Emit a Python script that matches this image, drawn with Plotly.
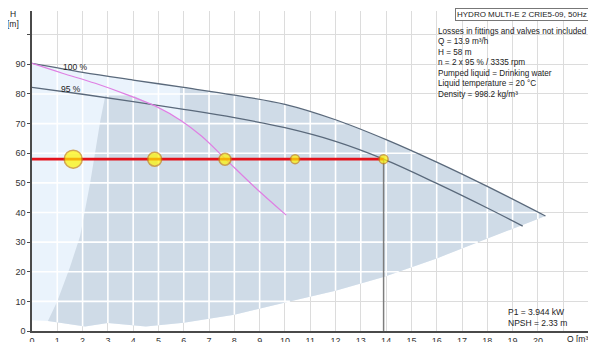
import numpy as np
import plotly.graph_objects as go

# ---- data ----
q100 = [0, 2, 4, 6, 8, 10, 12, 14, 16, 18, 20.3]
h100 = [90.3, 87.3, 84.7, 82.2, 79.6, 76.5, 71.3, 64.6, 57.0, 48.8, 38.8]

q95 = [0, 2, 4, 6, 8, 10, 12, 13.9, 16, 18, 19.4]
h95 = [82.2, 79.9, 77.4, 74.8, 72.0, 68.6, 64.0, 58.0, 49.8, 41.5, 35.4]

q_pink = [0, 1.2, 2.5, 3.8, 5.0, 5.9, 6.7, 7.63, 8.8, 10.05]
h_pink = [90.3, 87.0, 83.6, 79.6, 75.4, 71.0, 65.8, 58.2, 48.6, 39.1]

q_bottom = [0, 0.63, 2.1, 3.0, 4.5, 6.0, 8.0, 10.1, 12.0, 13.9, 16.0, 18.1, 20.3]
h_bottom = [3.6, 3.4, 1.5, 2.7, 1.5, 2.8, 5.5, 9.8, 13.6, 18.2, 24.5, 31.6, 38.8]

q_gray_edge = [0.63, 1.0, 1.5, 1.9, 2.3, 2.7, 2.9, 4.0, 5.0, 5.85, 5.85]
h_gray_edge = [3.4, 10, 21.5, 32, 50, 71, 79.5, 79.5, 75.2, 71.2, 82.3]

duty_q = 13.9
duty_h = 58
marker_q = [1.63, 4.85, 7.63, 10.4, 13.9]
marker_size = [18, 14, 12, 9, 9]

x_ticks = list(range(0, 23))
x_ticktext = [str(v) if v <= 20 else "" for v in x_ticks]
y_ticks = list(range(0, 101, 10))
y_ticktext = [str(v) if v < 100 else "" for v in y_ticks]

info_title = "HYDRO MULTI-E 2 CRIE5-09, 50Hz"
info_lines = [
    "Losses in fittings and valves not included",
    "Q = 13.9 m³/h",
    "H = 58 m",
    "n = 2 x 95 % / 3335 rpm",
    "Pumped liquid = Drinking water",
    "Liquid temperature = 20 °C",
    "Density = 998.2 kg/m³",
]
power_lines = ["P1 = 3.944 kW", "NPSH = 2.33 m"]

FONT = "Arial, 'Liberation Sans', sans-serif"
LIGHT = "#eaf3fc"
GRAY = "#cfdbe7"
CURVE = "#5a697b"

fig = go.Figure()

# light operating area: 100% curve on top, bottom boundary below
light_q = [0] + q100 + q_bottom[::-1]
light_h = [h_bottom[0]] + h100 + h_bottom[::-1]
fig.add_trace(go.Scatter(x=light_q, y=light_h, fill="toself", fillcolor=LIGHT,
                         line=dict(width=0), mode="lines", hoverinfo="skip"))

# gray area
q100a = np.array(q100); h100a = np.array(h100)
sel = q100a > q_gray_edge[-1]
gq = q_gray_edge + list(q100a[sel]) + [q for q in q_bottom[::-1] if q >= q_gray_edge[0]]
gh = h_gray_edge + list(h100a[sel]) + [h for q, h in zip(q_bottom[::-1], h_bottom[::-1]) if q >= q_gray_edge[0]]
fig.add_trace(go.Scatter(x=gq, y=gh, fill="toself", fillcolor=GRAY,
                         line=dict(width=0), mode="lines", hoverinfo="skip"))

# white grid lines clipped to the shaded area
def top(q):
    return np.interp(q, q100, h100)

def bot(q):
    return np.interp(q, q_bottom, h_bottom)

gx, gy = [], []
for k in x_ticks[1:]:
    if k < q100[-1]:
        gx += [k, k, None]
        gy += [bot(k), top(k), None]
qq = np.linspace(0, q100[-1], 4001)
for h in y_ticks[1:]:
    m = (bot(qq) < h) & (top(qq) > h)
    if m.any():
        gx += [qq[m].min(), qq[m].max(), None]
        gy += [h, h, None]
fig.add_trace(go.Scatter(x=gx, y=gy, mode="lines", line=dict(color="white", width=1.6),
                         hoverinfo="skip"))

# speed curves
fig.add_trace(go.Scatter(x=q100, y=h100, mode="lines", line=dict(color=CURVE, width=1.3, shape="spline")))
fig.add_trace(go.Scatter(x=q95, y=h95, mode="lines", line=dict(color=CURVE, width=1.3, shape="spline")))
fig.add_trace(go.Scatter(x=q_pink, y=h_pink, mode="lines", line=dict(color="#df7fe3", width=1.2, shape="spline")))

# duty lines
fig.add_trace(go.Scatter(x=[duty_q, duty_q], y=[0, duty_h], mode="lines",
                         line=dict(color="#7d7d7d", width=1.5)))
fig.add_trace(go.Scatter(x=[0, duty_q], y=[duty_h, duty_h], mode="lines",
                         line=dict(color="#e3121b", width=2.6)))
fig.add_trace(go.Scatter(x=marker_q, y=[duty_h] * len(marker_q), mode="markers",
                         marker=dict(size=marker_size, color="#fff500",
                                     line=dict(color="#c8870f", width=1.5))))

TXT = dict(size=8.5, color="#222")
SMALL = dict(size=8.2, color="#222")
ann = []
ann.append(dict(x=1.7, y=89.2, text="100 %", showarrow=False, font=TXT))
ann.append(dict(x=1.55, y=81.6, text="95 %", showarrow=False, font=TXT))
ann.append(dict(xref="paper", yref="paper", x=0.996, y=0.9875, text=info_title, showarrow=False,
                xanchor="right", yanchor="middle", font=dict(size=8.0, color="#222"),
                bordercolor="#777", borderwidth=1, borderpad=1, bgcolor="white"))
for i, t in enumerate(info_lines):
    ann.append(dict(x=15.97, y=101.2 - i * 3.55, text=t, showarrow=False, xanchor="left",
                    yanchor="middle", font=SMALL))
for i, t in enumerate(power_lines):
    ann.append(dict(x=18.75, y=6.5 - i * 3.9, text=t, showarrow=False, xanchor="left",
                    yanchor="middle", font=TXT))
ann.append(dict(xref="paper", yref="paper", x=-0.034, y=0.99, text="H", showarrow=False,
                xanchor="center", yanchor="middle", font=TXT))
ann.append(dict(xref="paper", yref="paper", x=-0.034, y=0.958, text="[m]", showarrow=False,
                xanchor="center", yanchor="middle", font=TXT))
ann.append(dict(xref="paper", yref="paper", x=0.985, y=-0.024, text="Q [m³/h]", showarrow=False,
                xanchor="center", yanchor="middle", font=TXT))

# page body has an 8px margin, so the figure is sized / offset to land on the 596x342 window
fig.update_layout(
    width=588, height=334,
    margin=dict(l=24, r=5, t=3, b=11, autoexpand=False),
    paper_bgcolor="white", plot_bgcolor="white",
    showlegend=False,
    font=dict(family=FONT, size=9, color="#333"),
    annotations=ann,
    xaxis=dict(range=[0, 22.1], tickvals=x_ticks, ticktext=x_ticktext, automargin=False,
               showgrid=True, gridcolor="#dcdcdc", gridwidth=1,
               showline=True, linecolor="#4a4a4a", linewidth=1.5,
               ticks="outside", ticklen=0, tickcolor="#4a4a4a",
               zeroline=False, tickfont=dict(size=9, color="#333")),
    yaxis=dict(range=[0, 108], tickvals=y_ticks, ticktext=y_ticktext, automargin=False,
               showgrid=True, gridcolor="#dcdcdc", gridwidth=1,
               showline=True, linecolor="#4a4a4a", linewidth=1.5,
               ticks="outside", ticklen=3, tickcolor="#4a4a4a",
               zeroline=False, tickfont=dict(size=9, color="#333")),
)

fig.write_html("out.html")
